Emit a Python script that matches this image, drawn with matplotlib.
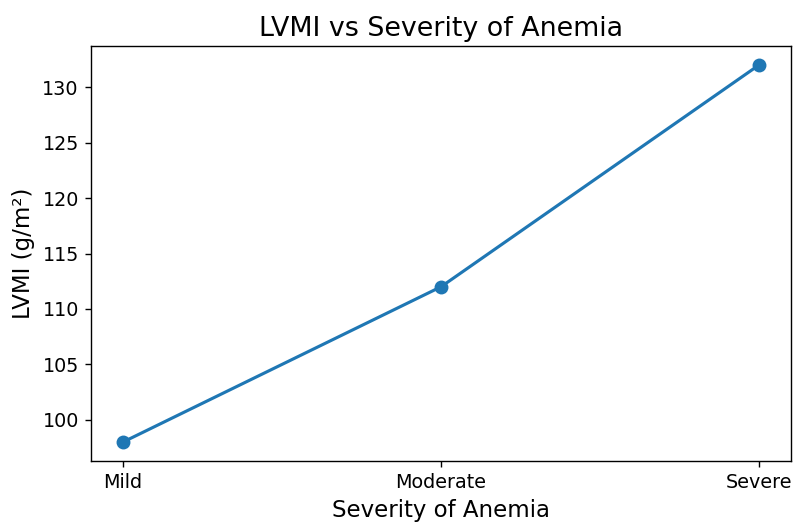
import matplotlib
matplotlib.use("Agg")
import matplotlib.pyplot as plt

severity = ["Mild", "Moderate", "Severe"]
lvmi = [98, 112, 132]

fig = plt.figure(figsize=(793 / 125, 522 / 125), dpi=125)
ax = fig.add_axes([91 / 793, 1 - 461 / 522, (791 - 91) / 793, (461 - 46) / 522])
ax.plot(severity, lvmi, marker="o", markersize=7, linewidth=1.8, color="#1f77b4")
ax.set_title("LVMI vs Severity of Anemia", fontsize=15.5)
ax.set_xlabel("Severity of Anemia", fontsize=13.2)
ax.set_ylabel("LVMI (g/m²)", fontsize=13.2)
ax.tick_params(labelsize=11)
fig.savefig("out.png", dpi=125)
